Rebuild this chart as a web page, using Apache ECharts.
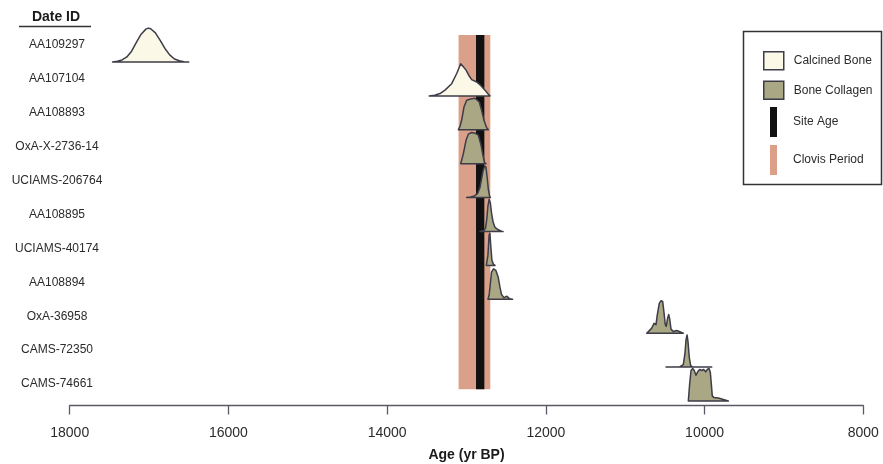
<!DOCTYPE html>
<html>
<head>
<meta charset="utf-8">
<script src="https://cdn.jsdelivr.net/npm/echarts@6/dist/echarts.min.js"></script>
<style>html,body{margin:0;padding:0;background:#fff;}#c{width:883px;height:464px;}</style>
</head>
<body>
<div id="c"></div>
<script>
// ---- data ----
const dateIds = ['AA109297','AA107104','AA108893','OxA-X-2736-14','UCIAMS-206764','AA108895','UCIAMS-40174','AA108894','OxA-36958','CAMS-72350','CAMS-74661'];
const material = ['Calcined Bone','Calcined Bone','Bone Collagen','Bone Collagen','Bone Collagen','Bone Collagen','Bone Collagen','Bone Collagen','Bone Collagen','Bone Collagen','Bone Collagen'];
const xTicks = [18000,16000,14000,12000,10000,8000];
const clovisPeriod = [13100, 12700];
const siteAge = [12880, 12775];
// calibrated probability curves: [age BP, relative density]
const AA109297 = [[17460,0],[17400,0.02],[17340,0.06],[17280,0.15],[17220,0.32],[17160,0.58],[17100,0.82],[17040,0.97],[17010,1.0],[16980,0.98],[16920,0.86],[16860,0.64],[16800,0.40],[16740,0.21],[16680,0.09],[16620,0.035],[16560,0.01],[16500,0]];
const AA107104 = [[13470,0],[13400,0.02],[13334,0.07],[13271,0.17],[13187,0.36],[13123,0.66],[13073,0.95],[13040,0.86],[13006,0.76],[12972,0.61],[12935,0.48],[12871,0.41],[12821,0.31],[12767,0.17],[12725,0.05],[12704,0]];
const AA108893 = [[13103,0],[13082,0.1],[13061,0.28],[13032,0.67],[12998,0.87],[12947,0.91],[12893,0.93],[12864,0.87],[12839,0.82],[12809,0.57],[12780,0.28],[12746,0.06],[12725,0]];
const OxAX273614 = [[13073,0],[13040,0.29],[13006,0.69],[12977,0.87],[12935,0.92],[12893,0.9],[12851,0.84],[12821,0.59],[12796,0.29],[12776,0.05],[12755,0]];
const UCIAMS206764 = [[12998,0],[12950,0.02],[12900,0.05],[12860,0.12],[12830,0.3],[12810,0.55],[12790,0.8],[12770,0.93],[12755,0.9],[12740,0.6],[12725,0.25],[12710,0.05],[12700,0]];
const AA108895 = [[12830,0],[12780,0.03],[12760,0.1],[12745,0.35],[12730,0.75],[12715,0.95],[12700,0.85],[12685,0.55],[12665,0.28],[12640,0.12],[12600,0.05],[12560,0.01],[12540,0]];
const UCIAMS40174 = [[12750,0],[12730,0.3],[12715,0.9],[12705,0.95],[12695,0.6],[12680,0.15],[12660,0.03],[12640,0]];
const AA108894 = [[12730,0],[12715,0.12],[12700,0.45],[12685,0.8],[12660,0.9],[12630,0.85],[12600,0.65],[12580,0.38],[12560,0.15],[12530,0.05],[12490,0.09],[12460,0.02],[12420,0]];
const OxA36958 = [[10729,0],[10666,0.15],[10637,0.29],[10612,0.25],[10596,0.54],[10571,0.88],[10549,0.96],[10528,0.94],[10511,0.6],[10495,0.25],[10483,0.2],[10465,0.45],[10452,0.55],[10440,0.42],[10423,0.12],[10394,0.05],[10352,0.08],[10319,0.05],[10268,0]];
const CAMS72350 = [[10486,0],[10310,0.01],[10268,0.07],[10247,0.41],[10234,0.8],[10221,0.95],[10209,0.75],[10192,0.27],[10175,0.04],[10150,0],[9910,0]];
const CAMS74661 = [[10205,0],[10188,0.5],[10171,0.9],[10150,0.96],[10130,0.9],[10108,0.76],[10087,0.86],[10062,0.93],[10036,0.9],[10011,0.93],[9986,0.86],[9966,0.93],[9944,0.96],[9928,0.85],[9915,0.5],[9903,0.15],[9881,0.1],[9827,0.09],[9784,0.06],[9743,0.03],[9701,0]];
const curves = [AA109297, AA107104, AA108893, OxAX273614, UCIAMS206764, AA108895, UCIAMS40174, AA108894, OxA36958, CAMS72350, CAMS74661];

// ---- style ----
const FONT = 'Liberation Sans, Arial, Helvetica, sans-serif';
const STROKE = '#3d3c48';
const FILL = {'Calcined Bone': '#fcf8e8', 'Bone Collagen': '#aaa785'};
const CLOVIS = '#daa08a';
const SITE = '#111111';
const nRows = dateIds.length;
const baseOf = k => nRows - 1 - k;     // baseline value of row k (top row highest)
const bandTop = 10.8, bandBottom = 0.35;

function curveSeries(name) {
  const data = [];
  curves.forEach((c, k) => { if (material[k] === name) data.push([c[0][0], baseOf(k), k]); });
  return {
    type: 'custom', name: name, xAxisIndex: 0, yAxisIndex: 0, z: 3,
    encode: {x: 0, y: 1},
    data: data,
    renderItem: function (params, api) {
      const k = api.value(2);
      const pts = curves[k].map(p => api.coord([p[0], baseOf(k) + p[1]]));
      return {type: 'polygon', shape: {points: pts},
        style: {fill: FILL[name], stroke: STROKE, lineWidth: 1.5, lineJoin: 'round'}};
    }
  };
}
function bandSeries(name, range, color) {
  return {
    type: 'custom', name: name, xAxisIndex: 0, yAxisIndex: 0, z: 1,
    encode: {x: 0, y: 1},
    data: [[range[0], bandBottom, range[1]]],
    renderItem: function (params, api) {
      const p1 = api.coord([api.value(0), bandTop]);
      const p2 = api.coord([api.value(2), bandBottom]);
      return {type: 'rect', shape: {x: p1[0], y: p1[1], width: p2[0] - p1[0], height: p2[1] - p1[1]},
        style: {fill: color}};
    }
  };
}

const chart = echarts.init(document.getElementById('c'), null, {renderer: 'canvas'});
chart.setOption({
  animation: false,
  backgroundColor: '#ffffff',
  textStyle: {fontFamily: FONT},
  grid: [
    {left: 69.7, right: 19.7, top: 28.1, bottom: 58.5, containLabel: false, outerBoundsMode: 'none'},
    {left: 69.7, right: 19.7, top: 28.05, bottom: 63.05, containLabel: false, outerBoundsMode: 'none'}
  ],
  xAxis: [
    {type: 'value', gridIndex: 0, min: 8000, max: 18000, interval: 2000, inverse: true,
     axisLine: {show: true, onZero: false, lineStyle: {color: '#5c5866', width: 1.3}},
     axisTick: {show: true, length: 9, lineStyle: {color: '#5c5866', width: 1.3}},
     axisLabel: {color: '#2b2b2b', fontSize: 14, margin: 21, fontFamily: FONT,
       formatter: v => xTicks.indexOf(v) >= 0 ? String(v) : ''},
     splitLine: {show: false},
     name: 'Age (yr BP)', nameLocation: 'middle', nameGap: 43,
     nameTextStyle: {color: '#1a1a1a', fontSize: 14, fontWeight: 'bold', fontFamily: FONT}},
    {type: 'value', gridIndex: 1, show: false}
  ],
  yAxis: [
    {type: 'value', gridIndex: 0, min: -0.133, max: 11, show: false},
    {type: 'category', gridIndex: 1, data: dateIds, inverse: true,
     axisLine: {show: false}, axisTick: {show: false}, splitLine: {show: false},
     axisLabel: {color: '#2b2b2b', fontSize: 12, align: 'center', margin: 12.7, fontFamily: FONT}}
  ],
  legend: [
    {data: [{name: 'Calcined Bone', icon: 'rect', itemStyle: {color: FILL['Calcined Bone'], borderColor: STROKE, borderWidth: 1.5}},
            {name: 'Bone Collagen', icon: 'rect', itemStyle: {color: FILL['Bone Collagen'], borderColor: STROKE, borderWidth: 1.5}}],
     orient: 'vertical', left: 763, top: 51, itemWidth: 20, itemHeight: 18, itemGap: 10, padding: 0,
     selectedMode: false,
     textStyle: {color: '#2b2b2b', fontSize: 12, fontFamily: FONT, padding: [0, 0, 0, 5]}},
    {data: [{name: 'Site Age', icon: 'rect', itemStyle: {color: SITE, borderWidth: 0}},
            {name: 'Clovis Period', icon: 'rect', itemStyle: {color: CLOVIS, borderWidth: 0}}],
     orient: 'vertical', left: 770, top: 107, itemWidth: 7, itemHeight: 30, itemGap: 8, padding: 0,
     selectedMode: false,
     textStyle: {color: '#2b2b2b', fontSize: 12, fontFamily: FONT, padding: [0, 0, 0, 11]}}
  ],
  graphic: [
    {type: 'rect', left: 741, top: 29, shape: {width: 138, height: 153},
     style: {fill: 'none', stroke: '#333', lineWidth: 1.5}, z: 10},
    {type: 'text', x: 56, y: 17, style: {text: 'Date ID', fill: '#1a1a1a', font: 'bold 14px ' + FONT, align: 'center', verticalAlign: 'middle'}},
    {type: 'line', shape: {x1: 19, y1: 26.5, x2: 91, y2: 26.5}, style: {stroke: '#333', lineWidth: 1.3}}
  ],
  series: [
    bandSeries('Clovis Period', clovisPeriod, CLOVIS),
    bandSeries('Site Age', siteAge, SITE),
    curveSeries('Calcined Bone'),
    curveSeries('Bone Collagen')
  ]
});
</script>
</body>
</html>
